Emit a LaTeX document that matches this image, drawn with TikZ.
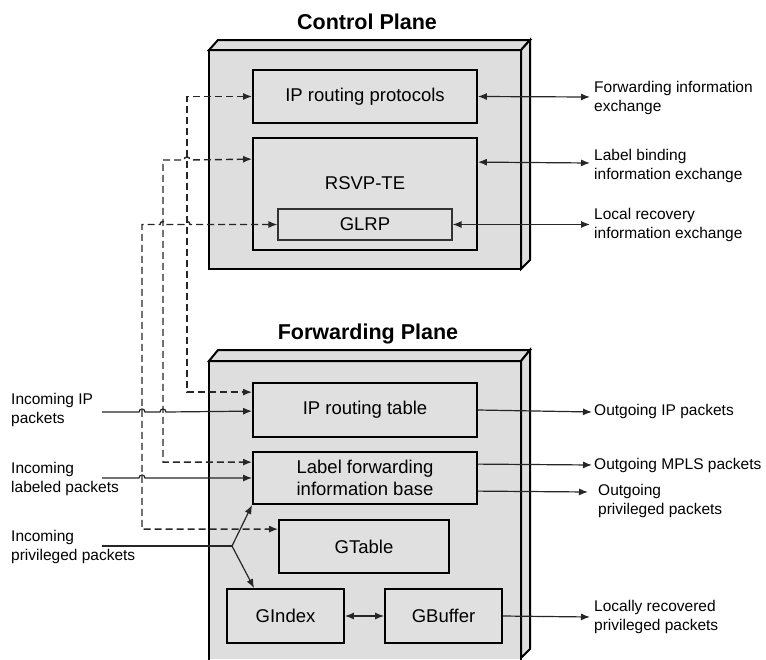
\documentclass[tikz,border=0pt]{standalone}
\usepackage{fontspec}
\setmainfont{Liberation Sans}
\usetikzlibrary{arrows.meta}
\definecolor{planegray}{HTML}{DEDEDE}
\definecolor{boxgray}{HTML}{E0E0E0}
\begin{document}
\begin{tikzpicture}[x=1pt,y=-1pt,
  plane/.style={fill=planegray, draw=black, line width=2pt, line join=miter},
  box/.style={draw=black, fill=boxgray, line width=1.8pt, inner sep=0pt,
    font=\fontsize{18.5}{22}\selectfont, align=center},
  txt/.style={inner sep=0pt, font=\fontsize{18.5}{22}\selectfont},
  lbl/.style={font=\fontsize{15.5}{19}\selectfont, align=left, inner sep=0pt, anchor=west},
  ttl/.style={font=\bfseries\fontsize{21.5}{24}\selectfont, inner sep=0pt},
  flow/.style={draw=black!85, line width=1.2pt},
  tip/.style={-{Latex[length=9pt,width=7pt]}},
  dtip/.style={{Latex[length=9pt,width=7pt]}-{Latex[length=9pt,width=7pt]}},
  dsh/.style={draw=black!85, line width=1.4pt, dash pattern=on 7pt off 4pt},
]
\useasboundingbox (0,0) rectangle (766,659);

% ---------- Control plane slab ----------
\fill[planegray] (209,50) rectangle (521,269);
\draw[plane] (209,50) -- (218,40) -- (530,40) -- (521,50) -- cycle;
\draw[plane] (521,50) -- (530,40) -- (530,260) -- (521,269) -- cycle;
\draw[plane, fill=none] (209,50) rectangle (521,269);
\node[ttl] (cpt) at (367,22) {Control Plane};

% ---------- Forwarding plane slab (runs off the bottom) ----------
\fill[planegray] (209,361) rectangle (521,659);
\draw[plane] (209,361) -- (218,350) -- (530,350) -- (521,361) -- cycle;
\draw[plane] (521,361) -- (530,350) -- (530,649) -- (521,658) -- cycle;
\draw[plane, fill=none] (209,662) -- (209,361) -- (521,361) -- (521,662);
\node[ttl] (fpt) at (368,334) {Forwarding Plane};

% ---------- Control plane modules ----------
\node[box, minimum width=224pt, minimum height=53pt] (iprp) at (365,96.5) {IP routing protocols};
\node[box, minimum width=224pt, minimum height=112pt] (rsvp) at (365,194) {};
\node[txt] (rsvpt) at (365,183) {RSVP-TE};
\node[box, draw=black!80, line width=1.1pt, minimum width=174pt, minimum height=31pt] (glrp) at (365,224.5) {GLRP};

% ---------- Forwarding plane modules ----------
\node[box, minimum width=224pt, minimum height=54pt] (iprt) at (365,410) {IP routing table};
\node[box, minimum width=224pt, minimum height=52pt] (lfib) at (365,478) {Label forwarding\\information base};
\node[box, minimum width=170pt, minimum height=53pt] (gtable) at (364,546.5) {GTable};
\node[box, minimum width=117pt, minimum height=54pt] (gindex) at (285.5,616) {GIndex};
\node[box, minimum width=117pt, minimum height=54pt] (gbuffer) at (443.5,616) {GBuffer};

% ---------- Right-hand labels ----------
\node[lbl] (l1) at (594,97.5) {Forwarding information\\exchange};
\node[lbl] (l2) at (594,166) {Label binding\\information exchange};
\node[lbl] (l3) at (594,224.5) {Local recovery\\information exchange};
\node[lbl] (l4) at (594,411) {Outgoing IP packets};
\node[lbl] (l5) at (594,465) {Outgoing MPLS packets};
\node[lbl] (l6) at (598,501) {Outgoing\\privileged packets};
\node[lbl] (l7) at (594,617) {Locally recovered\\privileged packets};

% ---------- Left-hand labels ----------
\node[lbl] (in1) at (11,410) {Incoming IP\\packets};
\node[lbl] (in2) at (11,479) {Incoming\\labeled packets};
\node[lbl] (in3) at (11,547) {Incoming\\privileged packets};

% connector end points
\coordinate (o1) at (590,97);
\coordinate (o2) at (590,163);
\coordinate (o3) at (590,224.5);
\coordinate (o4) at (592,412);
\coordinate (o5) at (592,465);
\coordinate (o6) at (588,492);
\coordinate (o7) at (590,617);
\coordinate (i1) at (102,412);
\coordinate (i2) at (102,478);
\coordinate (i3) at (102,546);
\coordinate (br) at (232,546);

% ---------- Control exchanges ----------
\draw[flow,dtip] (iprp.east) -- (o1);
\draw[flow,dtip] ([yshift=-25pt]rsvp.north east) -- (o2);
\draw[flow,dtip] (glrp.east) -- (o3);

% ---------- Outgoing traffic ----------
\draw[flow,tip] (iprt.east) -- (o4);
\draw[flow,tip] ([yshift=-13pt]lfib.north east) -- (o5);
\draw[flow,tip] ([yshift=-40pt]lfib.north east) -- (o6);
\draw[flow,tip] (gbuffer.east) -- (o7);
\draw[flow,dtip] (gindex.east) -- (gbuffer.west);

% ---------- Control-to-forwarding (dashed) ----------
\draw[dsh,dtip] (iprp.west) -- (187,96.5) |- ([yshift=-10pt]iprt.north west);
\draw[dsh,dtip] ([yshift=-22pt]rsvp.north west) -- (190,160)
  .. controls (190,156) and (184,156) .. (184,160) -- (163,160)
  |- ([yshift=-11pt]lfib.north west);
\draw[dsh,dtip] (glrp.west) -- (190,224.5)
  .. controls (190,220.5) and (184,220.5) .. (184,224.5) -- (166,224.5)
  .. controls (166,220.5) and (160,220.5) .. (160,224.5) -- (142,224.5)
  |- ([yshift=-10pt]gtable.north west);

% ---------- Incoming traffic ----------
\draw[flow,tip] (i1) -- (139,412) .. controls (139,408) and (145,408) .. (145,412)
  -- (160,412) .. controls (160,408) and (166,408) .. (166,412)
  -- ([yshift=-29pt]iprt.north west);
\draw[flow,tip] (i2) -- (139,478) .. controls (139,474) and (145,474) .. (145,478)
  -- (lfib.west);
\draw[flow] (i3) -- (br);
\draw[flow,tip] (br) -- (lfib.south west);
\draw[flow,tip] (br) -- ([xshift=28pt]gindex.north west);
\end{tikzpicture}
\end{document}
